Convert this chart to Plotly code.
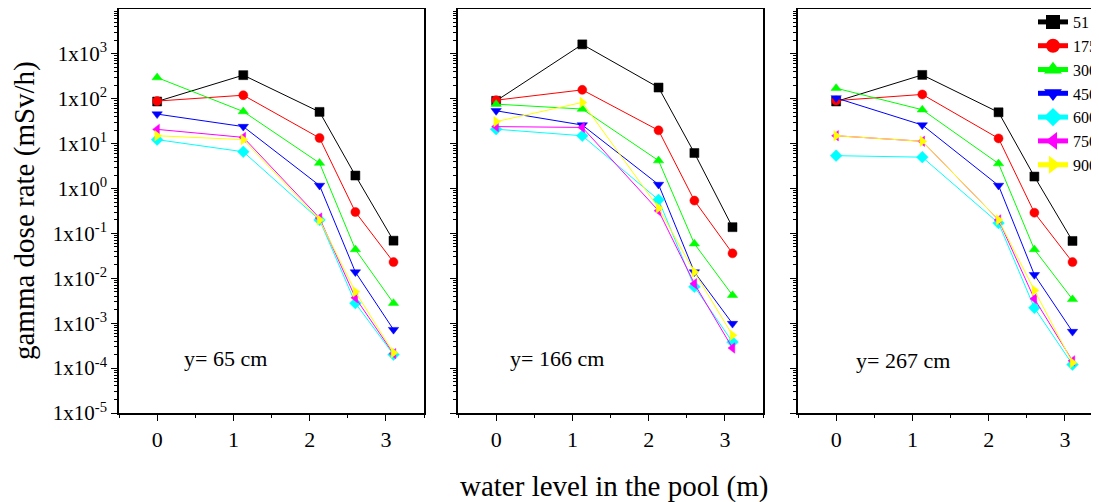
import plotly.graph_objects as go

# ---------------- data ----------------
water_level = [0, 1.13, 2.13, 2.6, 3.1]
sources = ["51", "175", "300", "450", "600", "750", "900"]

dose_y65 = {
    "51":  [87, 336, 51, 1.95, 0.069],
    "175": [89, 120, 13.4, 0.30, 0.023],
    "300": [297, 52, 3.7, 0.044, 0.0028],
    "450": [45.6, 24, 1.17, 0.0138, 0.00072],
    "600": [12.3, 6.6, 0.20, 0.0028, 0.00020],
    "750": [20.8, 13.8, 0.22, 0.0037, 0.00021],
    "900": [15, 12.3, 0.20, 0.0050, 0.00022],
}
dose_y166 = {
    "51":  [90, 1630, 178, 6.2, 0.138],
    "175": [93, 158, 19.8, 0.54, 0.036],
    "300": [76, 59, 4.2, 0.059, 0.0042],
    "450": [54, 26, 1.23, 0.0138, 0.00098],
    "600": [21, 15, 0.56, 0.0065, 0.00038],
    "750": [24, 23, 0.32, 0.0076, 0.00028],
    "900": [31, 83, 0.37, 0.0138, 0.00054],
}
dose_y267 = {
    "51":  [87, 340, 50, 1.85, 0.068],
    "175": [91, 125, 13.1, 0.29, 0.023],
    "300": [172, 57, 3.6, 0.044, 0.0034],
    "450": [104, 26, 1.17, 0.012, 0.00065],
    "600": [5.4, 5.0, 0.17, 0.0022, 0.00012],
    "750": [15, 11.3, 0.20, 0.0035, 0.000145],
    "900": [15, 11.3, 0.20, 0.0054, 0.000132],
}
panels = [dose_y65, dose_y166, dose_y267]
panel_labels = ["y= 65 cm", "y= 166 cm", "y= 267 cm"]

y_exponents = [-5, -4, -3, -2, -1, 0, 1, 2, 3]
x_ticks = [0, 1, 2, 3]

# ---------------- styles ----------------
colors = ["#000000", "#FF0000", "#00FF00", "#0000FF", "#00FFFF", "#FF00FF", "#FFFF00"]
symbols = ["square", "circle", "triangle-up", "triangle-down", "diamond",
           "triangle-left", "triangle-right"]
FONT = "Liberation Serif"

# page body has an 8px margin: figure pixel coords = screen coords - 8
W, H = 1096, 494
L, R, T, B = 111, 0, 1, 89
PW = W - L - R
PH = H - T - B
panel_px = [(111, 416), (450, 755), (790, 1095)]
label_px = [(217, 349), (549, 349), (895, 351)]

fig = go.Figure()

for p, data in enumerate(panels):
    xa = "x" if p == 0 else f"x{p+1}"
    ya = "y" if p == 0 else f"y{p+1}"
    for i, s in enumerate(sources):
        fig.add_trace(go.Scatter(
            x=water_level, y=data[s], name=s, xaxis=xa, yaxis=ya,
            mode="lines+markers", legendgroup=s, showlegend=(p == 0),
            line=dict(color=colors[i], width=1),
            marker=dict(symbol=symbols[i], size=9, color=colors[i],
                        line=dict(color=colors[i], width=0.5)),
        ))

y_tickvals = [10.0 ** e for e in y_exponents]
y_ticktext = [f"1x10<sup>{e}</sup>" for e in y_exponents]
y_minor = [m * 10.0 ** e for e in range(-5, 4) for m in range(2, 10)]

layout = dict(
    width=W, height=H,
    margin=dict(l=L, r=R, t=T, b=B, autoexpand=False),
    paper_bgcolor="white", plot_bgcolor="white",
    font=dict(family=FONT, color="black"),
    showlegend=True,
    legend=dict(x=(1025 - L) / PW, y=1 + 4 / PH, xanchor="left", yanchor="top",
                bgcolor="rgba(0,0,0,0)", font=dict(size=16, family=FONT),
                itemsizing="constant", tracegroupgap=0),
)

annotations = []
for p in range(3):
    sx = "" if p == 0 else str(p + 1)
    x0, x1 = panel_px[p]
    layout[f"xaxis{sx}"] = dict(
        domain=[(x0 - L) / PW, (x1 - L) / PW], anchor=f"y{sx}",
        range=[-0.5, 3.5], tickmode="array", tickvals=x_ticks,
        ticks="outside", ticklen=6, tickwidth=1.2, tickcolor="black",
        showline=True, linecolor="black", linewidth=1.5, mirror=True,
        showgrid=False, zeroline=False,
        tickfont=dict(size=22, family=FONT),
        minor=dict(tickmode="array", tickvals=[-0.5, 0.5, 1.5, 2.5, 3.5],
                   ticks="outside", ticklen=3, tickwidth=1.2, tickcolor="black",
                   showgrid=False),
    )
    layout[f"yaxis{sx}"] = dict(
        type="log", range=[-5, 4], anchor=f"x{sx}",
        tickmode="array", tickvals=y_tickvals, ticktext=y_ticktext,
        showticklabels=(p == 0),
        ticks="outside", ticklen=6, tickwidth=1.2, tickcolor="black",
        showline=True, linecolor="black", linewidth=1.5, mirror=True,
        showgrid=False, zeroline=False,
        tickfont=dict(size=21, family=FONT),
        minor=dict(tickmode="array", tickvals=y_minor, ticks="outside",
                   ticklen=3, tickwidth=1, tickcolor="black", showgrid=False),
    )
    lx, ly = label_px[p]
    annotations.append(dict(
        text=panel_labels[p], xref=f"x{sx} domain", yref=f"y{sx} domain",
        x=(lx - x0) / (x1 - x0), y=(PH - ly) / PH,
        xanchor="center", yanchor="middle", showarrow=False,
        font=dict(size=22, family=FONT, color="black"),
    ))

annotations.append(dict(
    text="gamma dose rate (mSv/h)", xref="paper", yref="paper",
    x=(16 - L) / PW, y=0.5, xanchor="center", yanchor="middle",
    textangle=-90, showarrow=False, font=dict(size=29, family=FONT, color="black"),
))
annotations.append(dict(
    text="water level in the pool (m)", xref="paper", yref="paper",
    x=(606 - L) / PW, y=(PH - 477) / PH, xanchor="center", yanchor="middle",
    showarrow=False, font=dict(size=29, family=FONT, color="black"),
))
layout["annotations"] = annotations

fig.update_layout(**layout)
fig.write_html("out.html")
